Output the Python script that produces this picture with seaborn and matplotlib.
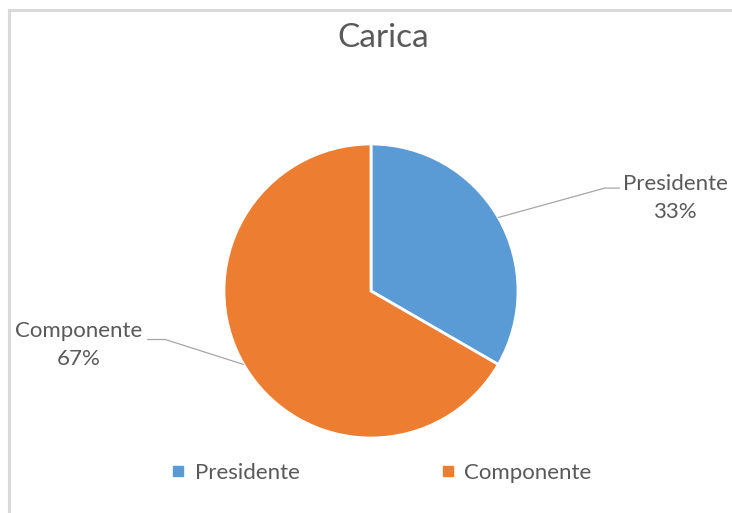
import matplotlib
matplotlib.use("Agg")
import matplotlib.pyplot as plt
from matplotlib.lines import Line2D
from matplotlib.patches import Rectangle
import numpy as np
import seaborn as sns

# Data
categories = ["Presidente", "Componente"]
counts = [1, 2]
title = "Carica"

sns.set_theme(style="white")
plt.rcParams["font.family"] = ["Lato", "DejaVu Sans"]
colors = ["#5B9BD5", "#ED7D31"]
text_color = "#595959"
line_color = "#A6A6A6"

W, H = 732, 513
fig = plt.figure(figsize=(W / 100, H / 100), dpi=100)
fig.patch.set_facecolor("white")

# Chart-area frame (top and left edges visible)
fig.patches.append(Rectangle((8.5 / W, -0.2), 1.5, 1.2 - 9.5 / H,
                             transform=fig.transFigure, fill=False,
                             edgecolor="#D9D9D9", linewidth=2.2, zorder=0))

# Pie axes: centre (371, 291) px, radius 147 px
cx, cy, r = 371, 291, 147
ax = fig.add_axes([(cx - r) / W, (H - cy - r) / H, 2 * r / W, 2 * r / H])
total = sum(counts)
wedges, _ = ax.pie(counts, colors=colors, startangle=90, counterclock=False,
                   wedgeprops=dict(edgecolor="white", linewidth=2))
ax.set_xlim(-1, 1)
ax.set_ylim(-1, 1)
ax.set_aspect("equal")
ax.axis("off")

# Data labels with leader lines
label_layout = {
    "Presidente": dict(elbow=(1.59, 0.70), end=(1.69, 0.70), text=(2.07, 0.63)),
    "Componente": dict(elbow=(-1.40, -0.33), end=(-1.52, -0.33), text=(-1.99, -0.37)),
}
for w, name, val in zip(wedges, categories, counts):
    mid = np.deg2rad((w.theta1 + w.theta2) / 2)
    start = (np.cos(mid), np.sin(mid))
    lay = label_layout[name]
    xs = [start[0], lay["elbow"][0], lay["end"][0]]
    ys = [start[1], lay["elbow"][1], lay["end"][1]]
    ax.add_line(Line2D(xs, ys, color=line_color, linewidth=0.9, clip_on=False))
    pct = round(100 * val / total)
    ax.text(lay["text"][0], lay["text"][1], f"{name}\n{pct}%", ha="center",
            va="center", fontsize=16, color=text_color, linespacing=1.5,
            clip_on=False)

# Title
fig.text(383 / W, 1 - 38 / H, title, ha="center", va="center",
         fontsize=24, color=text_color)

# Legend
handles = [Line2D([], [], marker="s", linestyle="none", markersize=7,
                  markerfacecolor=c, markeredgecolor=c) for c in colors]
leg = fig.legend(handles, categories, loc="center", ncol=2,
                 bbox_to_anchor=(381 / W, 1 - 473 / H), frameon=False,
                 fontsize=16, handlelength=0.7, handletextpad=0.4,
                 columnspacing=6.3)
for t in leg.get_texts():
    t.set_color(text_color)

fig.savefig("out.png", dpi=100, facecolor="white")
